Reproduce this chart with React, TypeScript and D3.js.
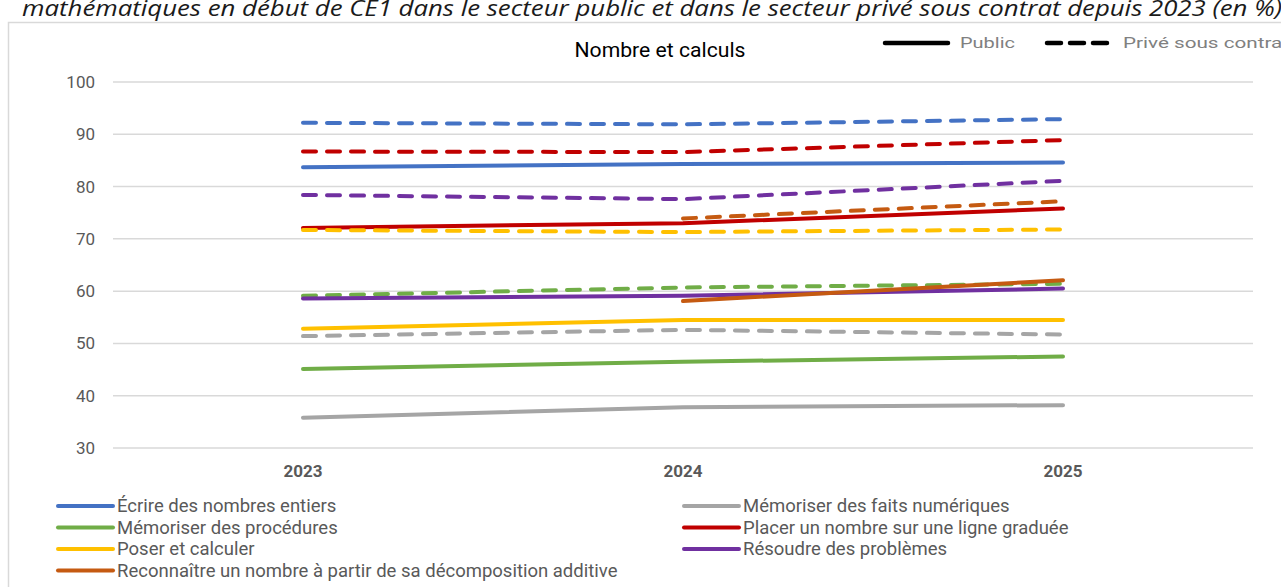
import React from "react";
import * as d3 from "d3";

const years = ["2023", "2024", "2025"];
const yTicks = [30, 40, 50, 60, 70, 80, 90, 100];

const seriesNames = [
  "Écrire des nombres entiers",
  "Mémoriser des faits numériques",
  "Mémoriser des procédures",
  "Placer un nombre sur une ligne graduée",
  "Poser et calculer",
  "Résoudre des problèmes",
  "Reconnaître un nombre à partir de sa décomposition additive",
];
const seriesColors = ["#4472C4", "#A5A5A5", "#70AD47", "#C00000", "#FFC000", "#7030A0", "#C55A11"];

// Public (solid) values by year; null = no data
const publicValues: (number | null)[][] = [
  [83.7, 84.3, 84.6],
  [35.8, 37.8, 38.2],
  [45.1, 46.5, 47.5],
  [72.1, 73.0, 75.8],
  [52.8, 54.5, 54.5],
  [58.6, 59.1, 60.5],
  [null, 58.1, 62.1],
];
// Privé sous contrat (dashed)
const privateValues: (number | null)[][] = [
  [92.2, 91.9, 92.9],
  [51.4, 52.6, 51.7],
  [59.1, 60.7, 61.4],
  [86.7, 86.6, 88.9],
  [71.7, 71.3, 71.8],
  [78.4, 77.6, 81.1],
  [null, 73.9, 77.2],
];

const chartTitle = "Nombre et calculs";
const pageTitle =
  "mathématiques en début de CE1 dans le secteur public et dans le secteur privé sous contrat depuis 2023 (en %)";

export default function App() {
  const W = 1281, H = 587;
  const x = d3.scaleBand<string>().domain(years).range([113, 1253]).padding(0);
  const y = d3.scaleLinear().domain([30, 100]).range([448, 82]);
  const cx = (yr: string) => (x(yr) as number) + x.bandwidth() / 2;

  const line = d3
    .line<number | null>()
    .defined((d) => d != null)
    .x((_, i) => cx(years[i]))
    .y((d) => y(d as number));

  const font = "Roboto, 'Noto Sans', sans-serif";
  const grey = "#595959";
  const dash = "13,11";

  const legendCols = [58, 684];
  const legendRows = [506, 527.5, 549, 570.5];

  return (
    <svg
      width={W}
      height={H}
      style={{ position: "absolute", left: 0, top: 0, background: "#fff" }}
    >
      <rect x={0} y={0} width={W} height={H} fill="#fff" />
      <text
        x={22}
        y={16}
        fontFamily="'Open Sans', sans-serif"
        fontStyle="italic"
        fontSize={22}
        fill="#1a1a1a"
        textLength={1260}
        lengthAdjust="spacingAndGlyphs"
      >
        {pageTitle}
      </text>
      <rect x={8.5} y={22.5} width={1400} height={700} fill="#fff" stroke="#d9d9d9" strokeWidth={1.5} />

      <text x={660} y={57} textAnchor="middle" fontFamily={font} fontSize={19.5} fill="#000" textLength={171} lengthAdjust="spacingAndGlyphs">
        {chartTitle}
      </text>

      {/* top legend */}
      <line x1={885} x2={948} y1={43} y2={43} stroke="#000" strokeWidth={4.5} strokeLinecap="round" />
      <text x={960} y={48} fontFamily={font} fontSize={15} fill="#808080" textLength={55} lengthAdjust="spacingAndGlyphs">Public</text>
      <line x1={1047} x2={1110} y1={43} y2={43} stroke="#000" strokeWidth={4.5} strokeLinecap="round" strokeDasharray="14,9" />
      <text x={1123} y={48} fontFamily={font} fontSize={15} fill="#808080" textLength={166} lengthAdjust="spacingAndGlyphs">Privé sous contrat</text>

      {/* grid */}
      {yTicks.map((t) => (
        <g key={t}>
          <line x1={113} x2={1253} y1={y(t)} y2={y(t)} stroke="#d9d9d9" strokeWidth={1.5} />
          <text x={95} y={y(t) + 6} textAnchor="end" fontFamily={font} fontSize={17} fill={grey}>
            {t}
          </text>
        </g>
      ))}
      {years.map((yr) => (
        <text key={yr} x={cx(yr)} y={477} textAnchor="middle" fontFamily={font} fontWeight="bold" fontSize={17} fill={grey}>
          {yr}
        </text>
      ))}

      {/* series */}
      {seriesNames.map((name, i) => (
        <g key={name}>
          <path d={line(publicValues[i]) || ""} fill="none" stroke={seriesColors[i]} strokeWidth={4} strokeLinecap="round" strokeLinejoin="round" />
          <path d={line(privateValues[i]) || ""} fill="none" stroke={seriesColors[i]} strokeWidth={4} strokeLinecap="round" strokeLinejoin="round" strokeDasharray={dash} />
        </g>
      ))}

      {/* bottom legend */}
      {seriesNames.map((name, i) => {
        const lx = legendCols[i % 2];
        const ly = legendRows[Math.floor(i / 2)];
        return (
          <g key={name}>
            <line x1={lx} x2={lx + 55} y1={ly} y2={ly} stroke={seriesColors[i]} strokeWidth={4} strokeLinecap="round" />
            <text x={lx + 59} y={ly + 6} fontFamily={font} fontSize={18.5} fill={grey}>
              {name}
            </text>
          </g>
        );
      })}
    </svg>
  );
}
